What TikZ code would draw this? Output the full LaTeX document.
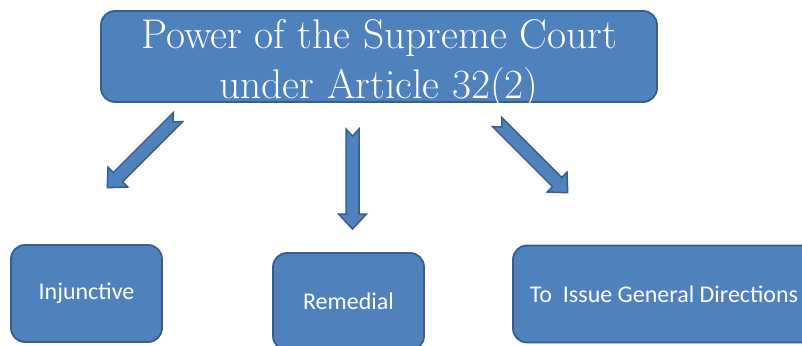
\documentclass[tikz,border=0pt]{standalone}
\usepackage{fontspec}
\newfontfamily\boxfont{Carlito}
\usetikzlibrary{positioning}
\definecolor{boxblue}{HTML}{4F81BD}
\definecolor{boxedge}{HTML}{385D8A}
\begin{document}
\begin{tikzpicture}[x=1pt,y=-1pt,
    bluebox/.style={draw=boxedge,line width=1.8pt,fill=boxblue,rounded corners=14pt,
      text=white,minimum width=151pt,minimum height=97pt,inner sep=0pt},
    titletext/.style={text=white,align=center,inner sep=0pt,
      font=\fontsize{41.5}{50}\selectfont},
    itemtext/.style={font=\boxfont\fontsize{24}{28}\selectfont},
    notcharrow/.pic={
      \draw[draw=boxedge,line width=1.5pt,fill=boxblue,line join=miter]
        (0,6.5) -- (85,6.5) -- (85,14) -- (100,0) -- (85,-14) -- (85,-6.5)
        -- (0,-6.5) -- (7,0) -- cycle;
    }]
    \useasboundingbox (0,0) rectangle (802,345);
    % top box
    \node[bluebox,minimum width=556pt,minimum height=91pt] (court) at (379,56.5) {};
    \node[titletext] (courtText) at ([yshift=-8pt]court.center)
      {Power of the Supreme Court\\under Article 32(2)};
    % three kinds of power
    \node[bluebox,itemtext] (injunctive) at (86.5,293.5) {Injunctive};
    \node[bluebox,itemtext] (remedial) at (348.5,301.5) {Remedial};
    \node[bluebox,itemtext,minimum width=302pt] (general) at (664,294) {To\ \ Issue General Directions};
    % block arrows
    \pic[rotate=225] at (178,117) {notcharrow};
    \pic[rotate=-90] at (352.5,129) {notcharrow};
    \pic[rotate=-45] at (497,122) {notcharrow};
\end{tikzpicture}
\end{document}
